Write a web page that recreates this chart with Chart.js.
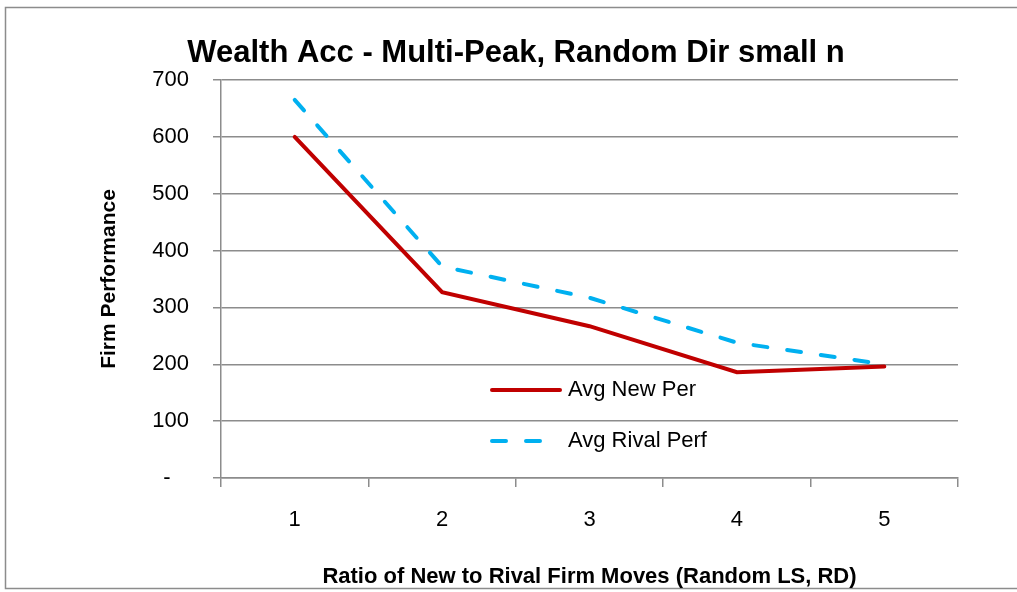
<!DOCTYPE html>
<html>
<head>
<meta charset="utf-8">
<style>
  html, body { margin: 0; padding: 0; background: #fff; }
  #wrap { position: relative; width: 1017px; height: 592px; }
</style>
<script src="https://cdn.jsdelivr.net/npm/chart.js@4.4.1/dist/chart.umd.min.js"></script>
</head>
<body>
<div id="wrap"><canvas id="chart" width="1017" height="592"></canvas></div>
<script>
    "use strict";

    // values
    var categories = ['1', '2', '3', '4', '5'];
    var avgNewPer = [600, 327, 267, 186, 196];
    var avgRivalPerf = [665, 372, 317, 238, 200];
    var yTickValues = [0, 100, 200, 300, 400, 500, 600, 700];

    var FONT = "'Liberation Sans', Arial, sans-serif";

    // frame round the whole chart, like the spreadsheet object
    var framePlugin = {
        id: 'frame',
        beforeDraw: function (chart) {
            var ctx = chart.ctx;
            ctx.save();
            ctx.fillStyle = '#fff';
            ctx.fillRect(0, 0, chart.width, chart.height);
            ctx.strokeStyle = '#8c8c8c';
            ctx.lineWidth = 1.5;
            ctx.strokeRect(5.5, 7.5, 1100, 581);
            ctx.restore();
        }
    };

    // legend sits inside the plot, lower middle
    var innerLegend = {
        id: 'innerLegend',
        afterDatasetsDraw: function (chart) {
            var ctx = chart.ctx;
            var x0 = 492, x1 = 560, tx = 568;
            var rows = [390, 441];
            ctx.save();
            chart.data.datasets.forEach(function (ds, i) {
                var y = rows[i];
                ctx.beginPath();
                ctx.strokeStyle = ds.borderColor;
                ctx.lineWidth = ds.borderWidth;
                ctx.lineCap = ds.borderCapStyle || 'butt';
                ctx.setLineDash(ds.borderDash || []);
                ctx.moveTo(x0, y);
                ctx.lineTo(x1, y);
                ctx.stroke();
                ctx.setLineDash([]);
                ctx.fillStyle = '#000';
                ctx.font = '22px ' + FONT;
                ctx.textBaseline = 'middle';
                ctx.textAlign = 'left';
                ctx.fillText(ds.label, tx, y);
            });
            ctx.restore();
        }
    };

    new Chart(document.getElementById('chart').getContext('2d'), {
        type: 'line',
        data: {
            labels: categories,
            datasets: [{
                label: 'Avg New Per',
                data: avgNewPer,
                borderColor: '#c00000',
                borderWidth: 4,
                borderCapStyle: 'round',
                pointRadius: 0,
                tension: 0
            }, {
                label: 'Avg Rival Perf',
                data: avgRivalPerf,
                borderColor: '#00b0f0',
                borderWidth: 4,
                borderCapStyle: 'round',
                borderDash: [14, 20],
                pointRadius: 0,
                tension: 0
            }]
        },
        options: {
            responsive: false,
            animation: false,
            layout: { padding: { left: 74, right: 59, top: 0, bottom: 0 } },
            plugins: {
                legend: { display: false },
                tooltip: { enabled: false },
                title: {
                    display: true,
                    text: 'Wealth Acc - Multi-Peak, Random Dir small n',
                    color: '#000',
                    font: { family: FONT, size: 31, weight: 'bold', lineHeight: 1.0 },
                    padding: { top: 38, bottom: 11 }
                }
            },
            scales: {
                x: {
                    offset: true,
                    grid: {
                        display: true,
                        offset: true,
                        drawOnChartArea: false,
                        drawTicks: true,
                        tickLength: 9,
                        color: '#8c8c8c',
                        lineWidth: 1.5
                    },
                    border: { color: '#8c8c8c', width: 1.5 },
                    ticks: {
                        color: '#000',
                        padding: 20,
                        font: { family: FONT, size: 22 }
                    },
                    title: {
                        display: true,
                        text: 'Ratio of New to Rival Firm Moves (Random LS, RD)',
                        color: '#000',
                        font: { family: FONT, size: 22, weight: 'bold' },
                        padding: { top: 0, bottom: 2 }
                    },
                    afterFit: function (scale) { scale.height = 114; }
                },
                y: {
                    min: 0,
                    max: 700,
                    afterBuildTicks: function (scale) {
                        scale.ticks = yTickValues.map(function (v) { return { value: v }; });
                    },
                    grid: {
                        color: '#8c8c8c',
                        lineWidth: 1.5,
                        drawTicks: true,
                        tickLength: 8
                    },
                    border: { color: '#8c8c8c', width: 1.5 },
                    ticks: {
                        color: '#000',
                        padding: 24,
                        font: { family: FONT, size: 22 },
                        callback: function (v) { return v === 0 ? '-   ' : String(v); }
                    },
                    title: {
                        display: true,
                        text: 'Firm Performance',
                        color: '#000',
                        font: { family: FONT, size: 21, weight: 'bold' },
                        padding: { top: 23, bottom: 0 }
                    },
                    afterFit: function (scale) { scale.width = 147; }
                }
            }
        },
        plugins: [framePlugin, innerLegend]
    });
</script>
</body>
</html>
